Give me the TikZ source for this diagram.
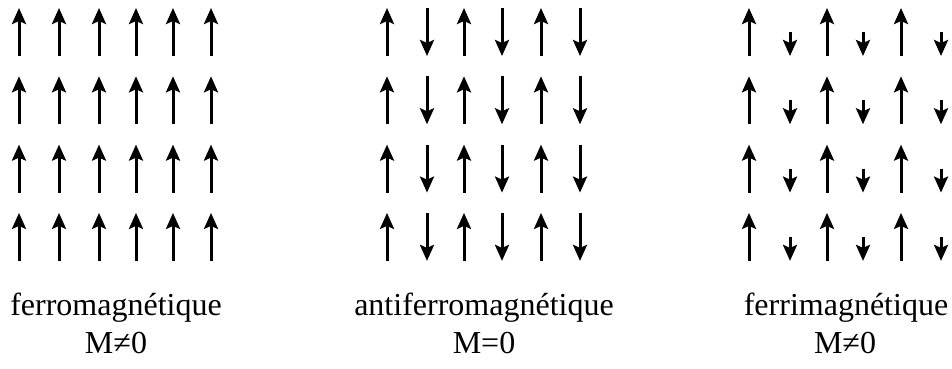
\documentclass[tikz,border=0pt]{standalone}
\usepackage{fontspec}
\setmainfont{Liberation Serif}
\usetikzlibrary{arrows.meta}
\begin{document}
\begin{tikzpicture}[x=1pt,y=-1pt,
  spin/.style={line width=3pt,-{Stealth[length=16pt,width=14pt,inset=3pt]}},
  lbl/.style={anchor=base,inner sep=0pt,font=\fontsize{32}{36}\selectfont}]
\useasboundingbox (0,0) rectangle (952,369);
\foreach \r in {0,1,2,3}{
  \pgfmathsetmacro{\top}{8+68.3*\r}
  \pgfmathsetmacro{\bot}{56+68.3*\r}
  \pgfmathsetmacro{\smt}{32+68.3*\r}
  % ferromagnetic
  \foreach \x in {19,59,99,136,173,211}{
    \draw[spin] (\x,\bot) -- (\x,\top);
  }
  % antiferromagnetic
  \foreach \x in {387,464,541}{
    \draw[spin] (\x,\bot) -- (\x,\top);
  }
  \foreach \x in {427,502,580}{
    \draw[spin] (\x,\top) -- (\x,\bot);
  }
  % ferrimagnetic
  \foreach \x in {749,827,901}{
    \draw[spin] (\x,\bot) -- (\x,\top);
  }
  \foreach \x in {790,863,941}{
    \draw[spin] (\x,\smt) -- (\x,\bot);
  }
}
\node[lbl] (ferro) at (116,315) {ferromagnétique};
\node[lbl] (ferroM) at (116,353) {M≠0};
\node[lbl] (anti) at (484,315) {antiferromagnétique};
\node[lbl] (antiM) at (484,353) {M=0};
\node[lbl] (ferri) at (846,315) {ferrimagnétique};
\node[lbl] (ferriM) at (845,353) {M≠0};
\end{tikzpicture}
\end{document}
